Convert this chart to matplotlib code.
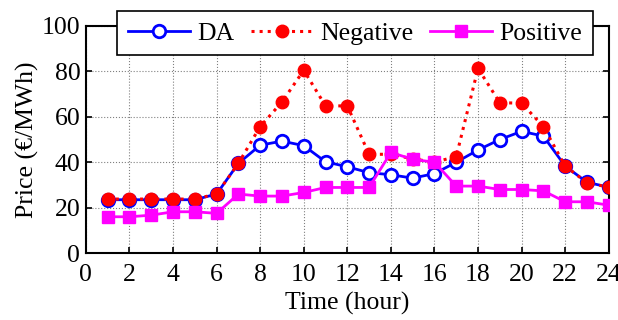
import numpy as np
import matplotlib
matplotlib.use('Agg')
import matplotlib.pyplot as plt

plt.rcParams['font.family'] = ['Liberation Serif', 'DejaVu Serif']
plt.rcParams['font.size'] = 18.5

hours = list(range(1, 25))
da = [23.5, 23.5, 23.5, 23.5, 23.5, 26, 39.5, 47.5, 49.3, 47.3, 40.2, 38,
      35.4, 34.5, 33, 35, 40, 45.4, 50, 53.6, 51.5, 38.3, 31.2, 29]
negative = [23.8, 23.8, 23.8, 23.8, 23.8, 26, 39.5, 55.7, 66.5, 80.5, 64.8, 64.8,
            43.5, 43.5, 41.5, 40, 42.5, 81.3, 66.2, 66, 55.7, 38.3, 31, 29]
positive = [16, 16, 16.7, 18.2, 18.2, 17.5, 26, 25.1, 25.1, 26.7, 28.9, 28.9,
            28.9, 44.3, 41.3, 40, 29.5, 29.5, 28, 28, 27.4, 22.6, 22.6, 21.1]

fig = plt.figure(figsize=(6.18, 3.2), dpi=100)
ax = fig.add_axes([0.139, 0.209, 0.846, 0.71])

ax.plot(hours, da, color='blue', lw=2, marker='o', ms=9,
        mfc='white', mec='blue', mew=2, label='DA', zorder=2)
ax.plot(hours, negative, color='red', lw=2.2, ls=':', marker='o', ms=9,
        mfc='red', mec='red', label='Negative', zorder=3)
ax.plot(hours, positive, color='magenta', lw=2, marker='s', ms=8,
        mfc='magenta', mec='magenta', label='Positive', zorder=4)

ax.set_xlim(0, 24)
ax.set_ylim(0, 100)
ax.set_xticks(range(0, 25, 2))
ax.set_yticks(range(0, 101, 20))
ax.grid(True, color='gray', ls=':', lw=0.8)
ax.tick_params(direction='in', top=True, right=True, length=4, width=1.2)
ax.tick_params(axis='x', pad=8)
ax.tick_params(axis='y', pad=4)
for s in ax.spines.values():
    s.set_linewidth(1.5)

ax.set_xlabel('Time (hour)', labelpad=4)
ax.set_ylabel('Price (€/MWh)', labelpad=2)

leg = ax.legend(ncol=3, loc='upper center',
                bbox_to_anchor=(0.515, 1.066), fancybox=False, framealpha=1,
                edgecolor='black', handlelength=2.4, columnspacing=0.65,
                borderpad=0.42, handletextpad=0.3, borderaxespad=0)
leg.get_frame().set_linewidth(1.2)
leg.set_zorder(10)

fig.savefig('out.png', dpi=100)
